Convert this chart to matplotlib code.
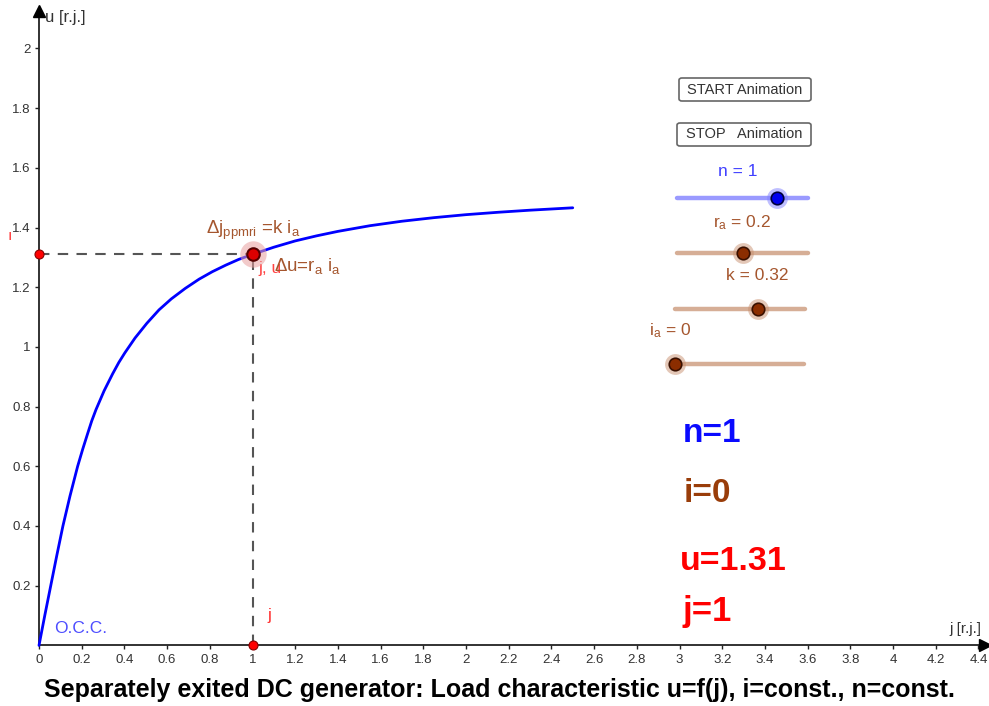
import numpy as np
import matplotlib
matplotlib.use("Agg")
import matplotlib.pyplot as plt
from matplotlib.patches import FancyBboxPatch

plt.rcParams['font.family'] = ['Liberation Sans', 'DejaVu Sans']
plt.rcParams['mathtext.fontset'] = 'custom'
plt.rcParams['mathtext.rm'] = 'Liberation Sans'
plt.rcParams['mathtext.it'] = 'Liberation Sans:italic'

# ---- data ----
j_occ = [0, 0.027, 0.055, 0.083, 0.112, 0.145, 0.181, 0.205, 0.228, 0.247, 0.267,
         0.305, 0.345, 0.374, 0.402, 0.450, 0.505, 0.562, 0.62, 0.685, 0.75, 0.812,
         0.875, 0.935, 1.0, 1.1, 1.2, 1.3, 1.4, 1.55, 1.7, 1.85, 2.0, 2.15, 2.3, 2.5]
u_occ = [0, 0.1, 0.2, 0.3, 0.4, 0.5, 0.6, 0.658, 0.71, 0.752, 0.79,
         0.853, 0.91, 0.948, 0.98, 1.03, 1.079, 1.124, 1.161, 1.196, 1.227, 1.252,
         1.274, 1.293, 1.31, 1.334, 1.355, 1.372, 1.387, 1.406, 1.421, 1.433, 1.443, 1.451, 1.458, 1.466]
j_op = 1.0
u_op = 1.31
x_ticks = [0, 0.2, 0.4, 0.6, 0.8, 1, 1.2, 1.4, 1.6, 1.8, 2, 2.2, 2.4, 2.6, 2.8,
           3, 3.2, 3.4, 3.6, 3.8, 4, 4.2, 4.4]
y_ticks = [0.2, 0.4, 0.6, 0.8, 1, 1.2, 1.4, 1.6, 1.8, 2]

W, H = 989, 706
fig = plt.figure(figsize=(W / 100, H / 100), dpi=100)
ax = fig.add_axes([0, 0, 1, 1])
ax.set_xlim(-39 / 213.5, (W - 39) / 213.5)
ax.set_ylim((645.4 - H) / 298.5, 645.4 / 298.5)
ax.set_facecolor('white')

def fx(x):
    return x / W

def fy(y):
    return 1 - y / H

# axes
for s in ['top', 'right']:
    ax.spines[s].set_visible(False)
ax.spines['left'].set_position(('data', 0))
ax.spines['bottom'].set_position(('data', 0))
ax.spines['left'].set_bounds(0, 2.12)
ax.spines['bottom'].set_bounds(0, 4.42)
for s in ['left', 'bottom']:
    ax.spines[s].set_linewidth(1.3)
    ax.spines[s].set_color('#222222')
ax.plot([0], [2.125], marker='^', color='black', markersize=9, clip_on=False, zorder=5)
ax.plot([4.43], [0], marker='>', color='black', markersize=9, clip_on=False, zorder=5)

ax.set_xticks(x_ticks)
ax.set_xticklabels([f'{v:g}' for v in x_ticks])
ax.set_yticks(y_ticks)
ax.set_yticklabels([f'{v:g}' for v in y_ticks])
ax.tick_params(axis='both', direction='out', length=3, width=1, color='#222222',
               labelsize=9.5, labelcolor='#333333', pad=3)

ax.text(0.03, 2.105, 'u [r.j.]', fontsize=12, color='#333333', va='center', ha='left')
ax.text(4.265, 0.03, 'j [r.j.]', fontsize=11, color='#333333', va='bottom', ha='left')

# OCC curve
ax.plot(j_occ, u_occ, color='#0000ff', lw=2.0, zorder=3, solid_capstyle='round',
        solid_joinstyle='round')
ax.text(0.07, 0.03, 'O.C.C.', color='#4d4dff', fontsize=12.5, va='bottom', ha='left')

# dashed construction lines
ax.plot([0, j_op], [u_op, u_op], color='#555555', lw=1.5, ls=(0, (5, 4)), zorder=2)
ax.plot([j_op, j_op], [0, u_op], color='#555555', lw=1.5, ls=(0, (5, 4)), zorder=2)

# points
ax.plot([j_op], [u_op], 'o', markersize=19, color='#e8a0a0', alpha=0.55, zorder=4, mec='none')
ax.plot([j_op], [u_op], 'o', markersize=9, mfc='#dd0000', mec='#550000', mew=1.5, zorder=5)
ax.plot([0], [u_op], 'o', markersize=6.5, mfc='#ff0000', mec='#880000', mew=0.8, zorder=5, clip_on=False)
ax.plot([j_op], [0], 'o', markersize=6.5, mfc='#ff0000', mec='#880000', mew=0.8, zorder=5, clip_on=False)

ax.text(-0.135, 1.37, 'ı', color='#ff3333', fontsize=11, ha='center', va='center')
ax.text(1.08, 0.10, 'j', color='#ff3333', fontsize=12.5, ha='center', va='center')

brown = '#a5562e'
ax.text(0.78, 1.352, r'$\Delta\mathrm{j}_{\mathrm{ppmri}}$ =k i$_{\mathrm{a}}$', color=brown,
        fontsize=13.5, ha='left', va='bottom')
ax.text(1.03, 1.262, 'j, u', color='#ff4444', fontsize=12.5, ha='left', va='center')
ax.text(1.10, 1.27, r'$\Delta\mathrm{u}$=r$_{\mathrm{a}}$ i$_{\mathrm{a}}$', color=brown,
        fontsize=13.5, ha='left', va='center')

# buttons
for (x0, x1, y0, y1, label) in [(679, 811, 78, 101, 'START Animation'),
                                  (677, 811, 123, 146, 'STOP   Animation')]:
    box = FancyBboxPatch((fx(x0), fy(y1)), fx(x1 - x0), (y1 - y0) / H,
                         boxstyle='round,pad=0,rounding_size=0.003',
                         transform=fig.transFigure, facecolor='white',
                         edgecolor='#666666', lw=1.2)
    fig.patches.append(box)
    fig.text(fx((x0 + x1) / 2), fy((y0 + y1) / 2), label, fontsize=10.5, color='#333333',
             ha='center', va='center')

# sliders
sliders = [
    (677, 808, 198, 777, '#9a9aff', '#0000ee', '#00003a', '#8080ff', 'n = 1', 738, 172, '#4040ff'),
    (677, 808, 253, 743, '#d6ae96', '#8b2d00', '#3a1000', '#c89070', r'r$_{\mathrm{a}}$ = 0.2', 742, 223, brown),
    (675, 805, 309, 758, '#d6ae96', '#8b2d00', '#3a1000', '#c89070', 'k = 0.32', 757, 276, brown),
    (672, 804, 364, 675, '#d6ae96', '#8b2d00', '#3a1000', '#c89070', r'i$_{\mathrm{a}}$ = 0', 670, 331, brown),
]
for (x0, x1, y, xp, lc, pc, ec, hc, lab, lx, ly, tc) in sliders:
    fig.add_artist(plt.Line2D([fx(x0), fx(x1)], [fy(y), fy(y)], transform=fig.transFigure,
                              color=lc, lw=3.2, solid_capstyle='round'))
    fig.add_artist(plt.Line2D([fx(xp)], [fy(y)], transform=fig.transFigure, marker='o',
                              markersize=15, color=hc, alpha=0.5, mec='none'))
    fig.add_artist(plt.Line2D([fx(xp)], [fy(y)], transform=fig.transFigure, marker='o',
                              markersize=9, mfc=pc, mec=ec, mew=1.2))
    fig.text(fx(lx), fy(ly), lab, fontsize=12.5, color=tc, ha='center', va='center')

# big status text
fig.text(fx(683), fy(434), 'n=1', fontsize=24, fontweight='bold', color='#0a0aff', ha='left', va='center')
fig.text(fx(684), fy(493), 'i=0', fontsize=24, fontweight='bold', color='#993d0a', ha='left', va='center')
fig.text(fx(680), fy(561), 'u=1.31', fontsize=24.5, fontweight='bold', color='#ff0000', ha='left', va='center')
fig.text(fx(682), fy(611), 'j=1', fontsize=25, fontweight='bold', color='#ff0000', ha='left', va='center')

# caption
fig.text(fx(499), fy(690), 'Separately exited DC generator: Load characteristic u=f(j), i=const., n=const.',
         fontsize=18, fontweight='bold', color='black', ha='center', va='center')

fig.savefig('out.png', dpi=100, facecolor='white')
